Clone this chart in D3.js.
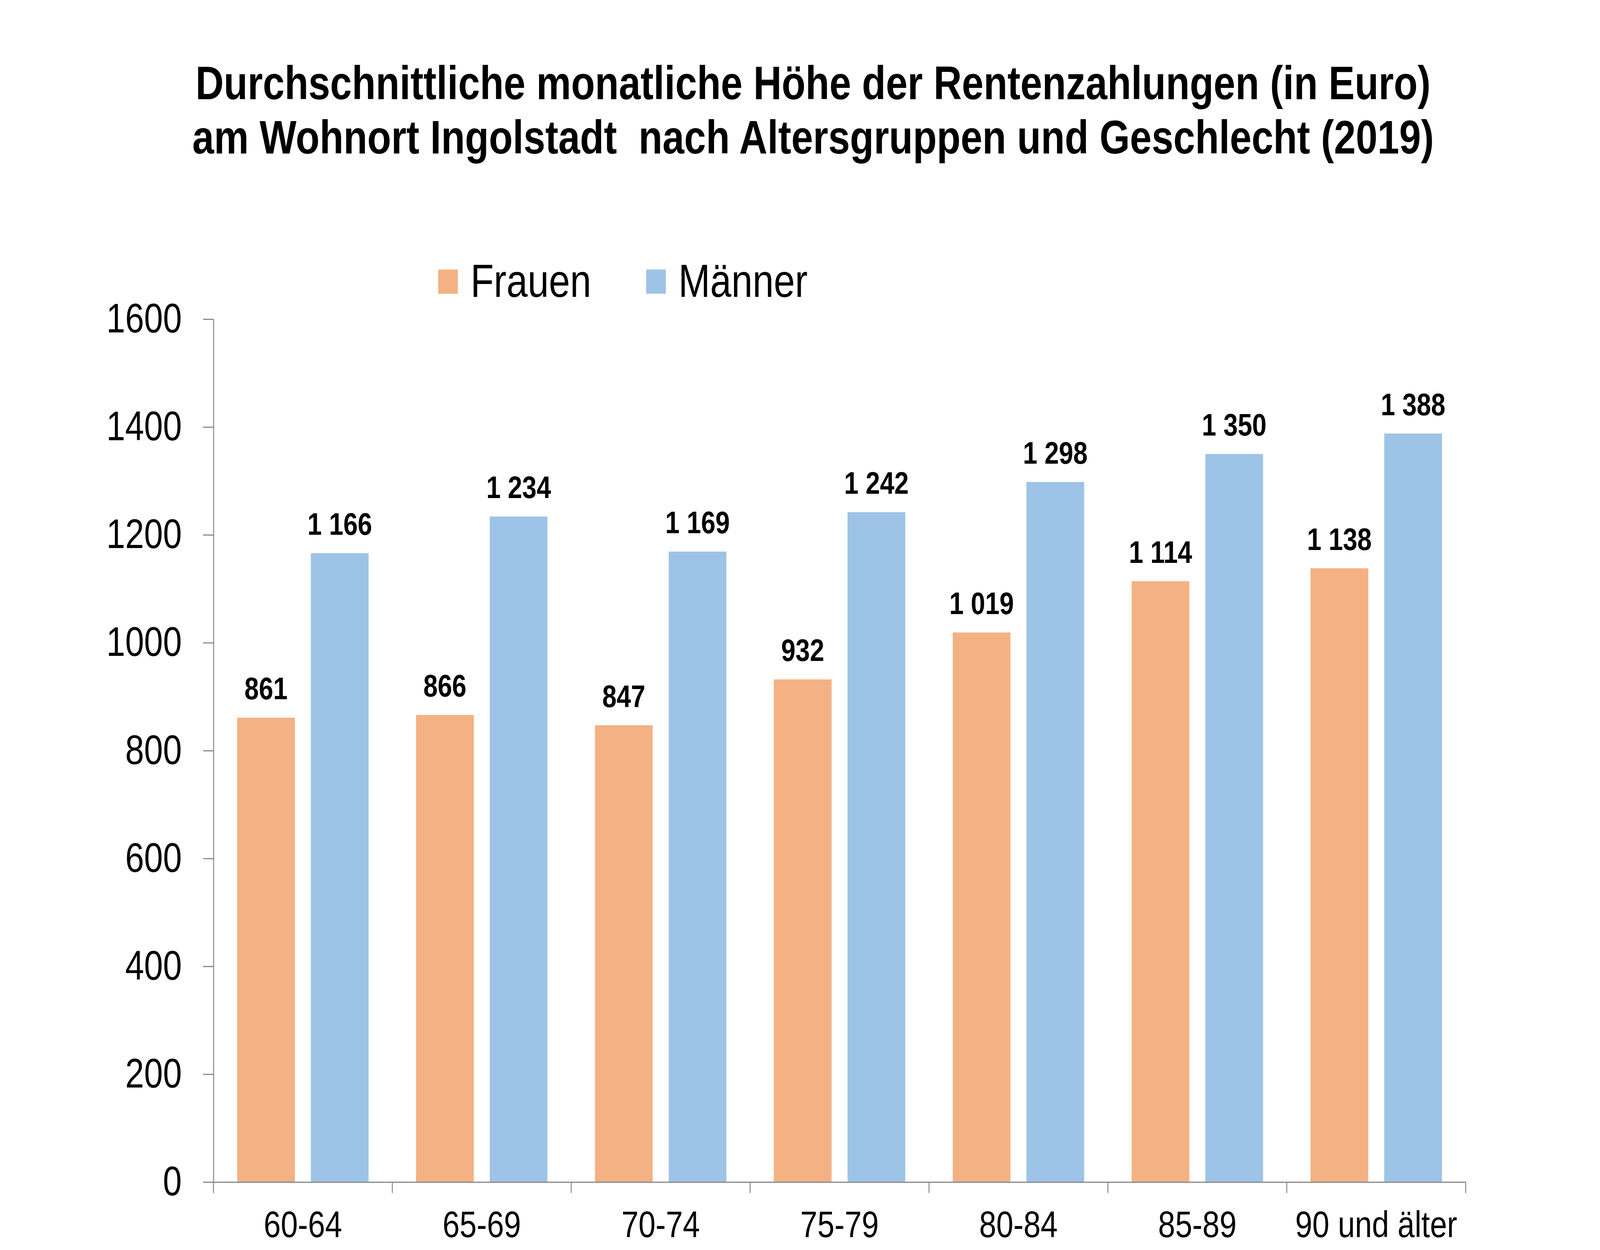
<!DOCTYPE html>
<html>
<head>
<meta charset="utf-8">
<script src="https://cdnjs.cloudflare.com/ajax/libs/d3/7.8.5/d3.min.js"></script>
<style>
  html, body { margin: 0; padding: 0; background: #fff; overflow: hidden; }
  svg { display: block; width: 100vw; height: 100vh; }
  text { font-family: "Liberation Sans", Arial, sans-serif; }
</style>
</head>
<body>
<svg id="chart" viewBox="0 0 4955 3200" preserveAspectRatio="none"></svg>
<script>
// data
const ageGroups = ["60-64", "65-69", "70-74", "75-79", "80-84", "85-89", "90 und älter"];
const frauen = [861, 866, 847, 932, 1019, 1114, 1138];
const maenner = [1166, 1234, 1169, 1242, 1298, 1350, 1388];
const seriesNames = ["Frauen", "Männer"];
const seriesColors = ["#F4B183", "#9DC3E6"];
const yTicks = [0, 200, 400, 600, 800, 1000, 1200, 1400, 1600];
const titleLines = [
  "Durchschnittliche monatliche Höhe der Rentenzahlungen (in Euro)",
  "am Wohnort Ingolstadt  nach Altersgruppen und Geschlecht (2019)"
];

const svg = d3.select("#chart");
const axisColor = "#898989";

const plotLeft = 661, plotRight = 4539, plotTop = 817, plotBottom = 3026;

const x0 = d3.scaleBand().domain(ageGroups).range([plotLeft, plotRight]).padding(0);
const x1 = d3.scaleBand().domain(seriesNames).range([0, x0.bandwidth()])
  .paddingInner(0.217).paddingOuter(0.322);
const y = d3.scaleLinear().domain([0, 1600]).range([plotBottom, plotTop]);
const color = d3.scaleOrdinal().domain(seriesNames).range(seriesColors);

// numbers like "1 166"
const fmt = d3.formatLocale({decimal: ",", thousands: " ", grouping: [3], currency: ["", "€"]}).format(",d");

// title
svg.append("g").selectAll("text")
  .data(titleLines)
  .join("text")
  .attr("x", 2518)
  .attr("y", (d, i) => 254 + i * 139)
  .attr("text-anchor", "middle")
  .attr("font-size", 121)
  .attr("font-weight", "bold")
  .style("white-space", "pre")
  .text(d => d);

// legend
const legendX = [1357, 2001];
const legend = svg.append("g").selectAll("g")
  .data(seriesNames)
  .join("g")
  .attr("transform", (d, i) => `translate(${legendX[i]},690)`);
legend.append("rect")
  .attr("width", 61).attr("height", 62)
  .attr("fill", d => color(d));
legend.append("text")
  .attr("x", 100).attr("y", 70)
  .attr("font-size", 118)
  .text(d => d);

// y axis
const yAxis = svg.append("g")
  .attr("transform", `translate(${plotLeft},0)`)
  .call(d3.axisLeft(y).tickValues(yTicks).tickFormat(d3.format("d"))
    .tickSize(32).tickSizeOuter(0).tickPadding(66));
yAxis.selectAll("text").attr("font-size", 105).attr("fill", "#000").style("font-family", "Liberation Sans, Arial, sans-serif");
yAxis.selectAll("line, path").attr("stroke", axisColor).attr("stroke-width", 3);

// bars
const rows = ageGroups.map((g, i) => ({group: g, values: [
  {name: seriesNames[0], value: frauen[i]},
  {name: seriesNames[1], value: maenner[i]}
]}));

const groups = svg.append("g").selectAll("g")
  .data(rows)
  .join("g")
  .attr("transform", d => `translate(${x0(d.group)},0)`);

groups.selectAll("rect")
  .data(d => d.values)
  .join("rect")
  .attr("x", d => x1(d.name))
  .attr("y", d => y(d.value))
  .attr("width", x1.bandwidth())
  .attr("height", d => y(0) - y(d.value))
  .attr("fill", d => color(d.name));

groups.selectAll("text")
  .data(d => d.values)
  .join("text")
  .attr("x", d => x1(d.name) + x1.bandwidth() / 2)
  .attr("y", d => y(d.value) - 47)
  .attr("text-anchor", "middle")
  .attr("font-size", 80)
  .attr("font-weight", "bold")
  .style("white-space", "pre")
  .text(d => fmt(d.value));

// x axis
const xAxis = svg.append("g")
  .attr("transform", `translate(0,${plotBottom})`)
  .call(d3.axisBottom(x0).tickSize(0).tickSizeOuter(0).tickPadding(74));
xAxis.selectAll("text").attr("font-size", 95).attr("fill", "#000").style("font-family", "Liberation Sans, Arial, sans-serif");
xAxis.select("path").attr("stroke", axisColor).attr("stroke-width", 3);

const bounds = ageGroups.map(g => x0(g)).concat([x0(ageGroups[ageGroups.length - 1]) + x0.step()]);
xAxis.selectAll("line.bound")
  .data(bounds)
  .join("line")
  .attr("class", "bound")
  .attr("x1", d => d).attr("x2", d => d)
  .attr("y1", 0).attr("y2", 28)
  .attr("stroke", axisColor).attr("stroke-width", 3);
</script>
</body>
</html>
